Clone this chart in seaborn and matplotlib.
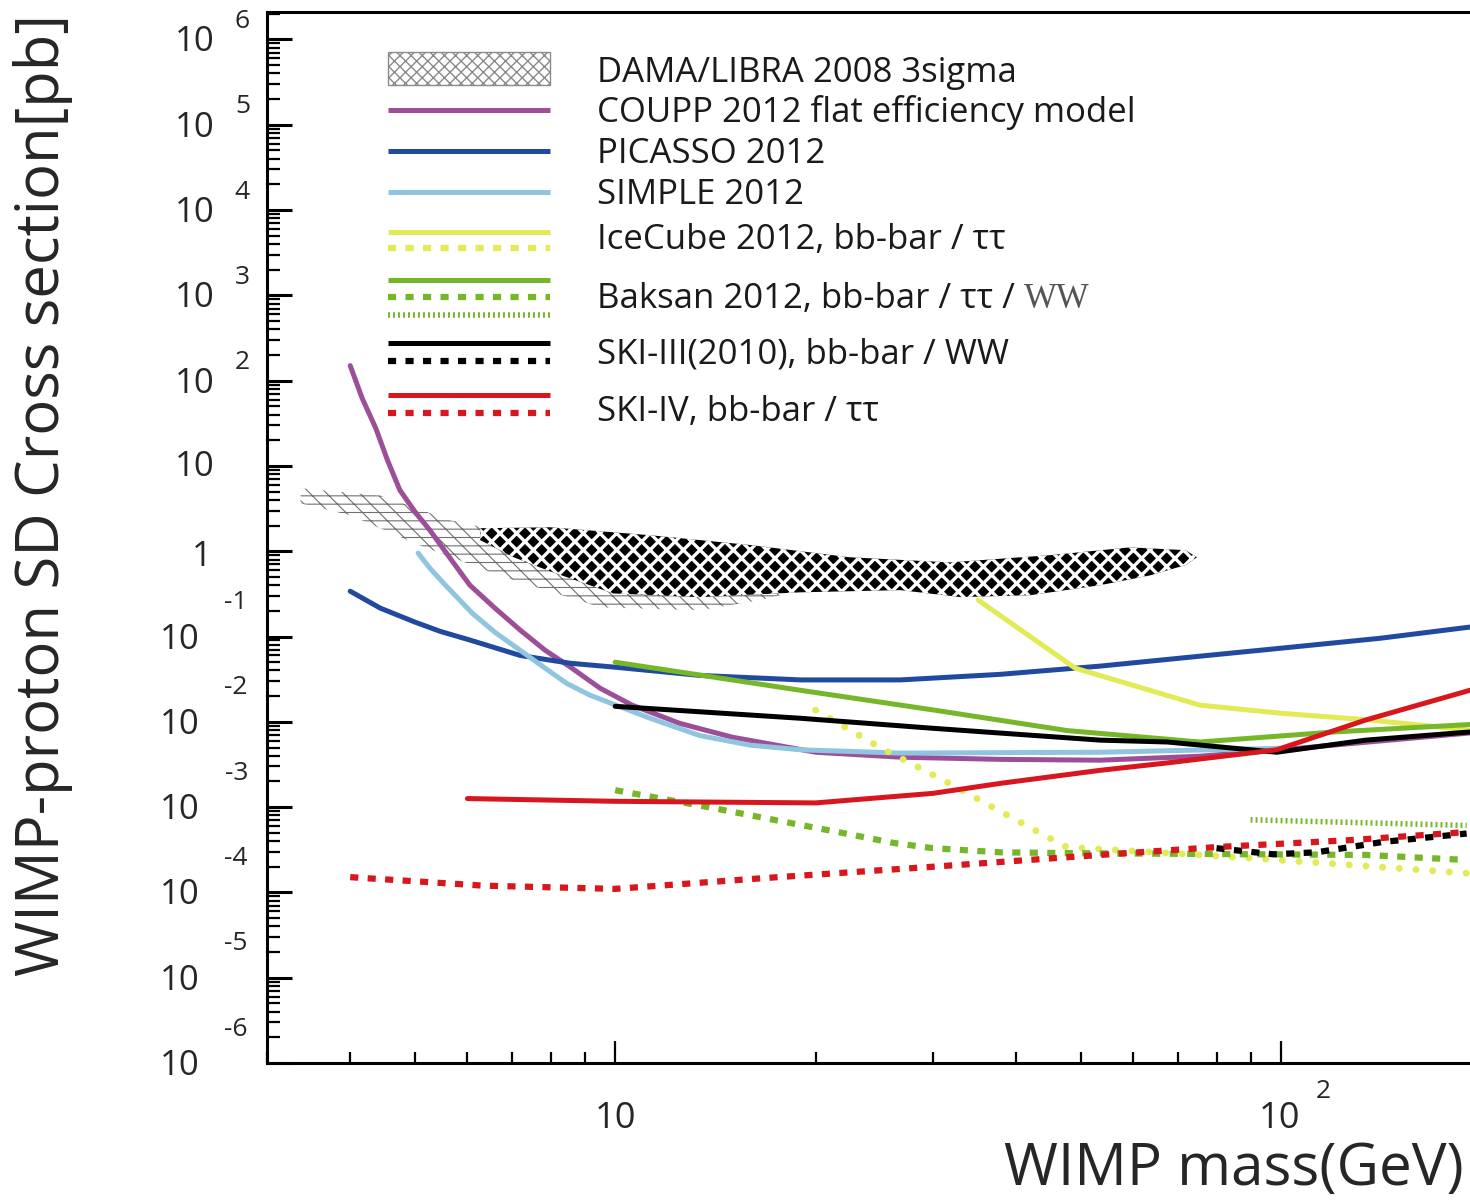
import matplotlib
matplotlib.use("Agg")
import matplotlib.pyplot as plt
import seaborn as sns
from matplotlib.ticker import LogLocator, NullFormatter
from matplotlib.patches import Rectangle

# ---------------------------------------------------------------------------
# Spin-dependent WIMP-proton cross-section limits (mass in GeV, sigma in pb)
# ---------------------------------------------------------------------------
coupp_m = [4.0, 4.17, 4.37, 4.55, 4.75, 5.01, 5.27, 5.65, 6.05, 6.6, 7.2, 7.85,
           8.56, 9.49, 10.6, 12.5, 15, 20, 26.8, 37.8, 53.5, 75.5, 100, 192]
coupp_s = [150, 62, 27.7, 11.7, 5.2, 2.87, 1.76, 0.83, 0.40, 0.215, 0.119,
           0.069, 0.044, 0.0248, 0.0157, 0.0096, 0.0066, 0.0044, 0.00385,
           0.00363, 0.00355, 0.00395, 0.0047, 0.0074]

picasso_m = [4.0, 4.44, 5.0, 5.46, 6.05, 7.2, 8.56, 10, 13.4, 19, 26.8, 37.8,
             53.5, 75.5, 100, 141, 192]
picasso_s = [0.34, 0.215, 0.148, 0.115, 0.091, 0.060, 0.0486, 0.0437, 0.035,
             0.031, 0.031, 0.036, 0.045, 0.0588, 0.073, 0.0955, 0.129]

simple_m = [5.06, 5.27, 5.56, 6.1, 6.6, 7.2, 7.85, 8.47, 9.17, 10, 11.29, 13.4,
            15.96, 19, 26.8, 53.5, 100]
simple_s = [0.95, 0.632, 0.40, 0.188, 0.112, 0.069, 0.0425, 0.028, 0.0205,
            0.0158, 0.011, 0.0069, 0.00532, 0.0047, 0.0043, 0.0044, 0.0049]

icecube_bb_m = [35.1, 49.1, 75.5, 100, 136, 192]
icecube_bb_s = [0.267, 0.0425, 0.0157, 0.0126, 0.0105, 0.0080]
icecube_tt_m = [20, 25, 31.1, 38.3, 45, 47.7, 75.5, 113, 190]
icecube_tt_s = [0.0137, 0.0050, 0.00207, 0.00085, 0.00043, 0.00034, 0.000275,
                0.000224, 0.000168]

baksan_bb_m = [10, 19, 30, 47.7, 75.5, 120, 192]
baksan_bb_s = [0.050, 0.0234, 0.0138, 0.0079, 0.0058, 0.0076, 0.0093]
baksan_tt_m = [10, 13.8, 17.3, 20.8, 26.2, 30, 37.9, 50.5, 134, 190]
baksan_tt_s = [0.00158, 0.0010, 0.00071, 0.00054, 0.00038, 0.00033, 0.000295,
               0.000288, 0.000275, 0.00024]
baksan_ww_m = [90, 190]
baksan_ww_s = [0.00071, 0.00061]

ski3_bb_m = [10, 19, 30, 53.5, 67.5, 98.5, 134, 192]
ski3_bb_s = [0.0152, 0.011, 0.0084, 0.0061, 0.0058, 0.0044, 0.0061, 0.0076]
ski3_ww_m = [80, 97.3, 113, 142, 190]
ski3_ww_s = [0.00033, 0.00028, 0.000295, 0.00039, 0.00049]

ski4_bb_m = [6.0, 10, 20, 30, 37.9, 53.5, 67.5, 98.5, 134, 192]
ski4_bb_s = [0.00126, 0.00117, 0.00112, 0.00145, 0.0019, 0.0027, 0.0033,
             0.0047, 0.0105, 0.0234]
ski4_tt_m = [4.0, 6.34, 10, 16.9, 30, 53.5, 80, 127, 190]
ski4_tt_s = [0.000151, 0.00012, 0.00011, 0.000148, 0.0002, 0.000275, 0.00034,
             0.00041, 0.00051]

# DAMA/LIBRA 3 sigma allowed regions (closed outlines)
dama_low_m = [3.37, 4.44, 5.65, 7.2, 9.5, 13.4, 19, 19, 16.5, 13.4, 9.5, 6.71,
              5.09, 4.0, 3.37]
dama_low_s = [5.48, 4.5, 2.31, 1.54, 1.03, 0.686, 0.52, 0.349, 0.267, 0.203,
              0.22, 0.52, 1.17, 2.64, 3.65]
dama_high_m = [6.27, 7.98, 11.3, 16.0, 22.5, 31.8, 45, 59.3, 71.8, 74.8, 71.8,
               63.5, 53.5, 42, 33, 26.8, 19, 13.4, 9.93, 7.9, 7.04, 6.27]
dama_high_s = [1.86, 1.91, 1.54, 1.18, 0.85, 0.74, 0.90, 1.11, 1.03, 0.85,
               0.686, 0.52, 0.40, 0.305, 0.29, 0.35, 0.33, 0.29, 0.32, 0.60,
               0.85, 1.35]

legend_labels = ["DAMA/LIBRA 2008 3sigma", "COUPP 2012 flat efficiency model",
                 "PICASSO 2012", "SIMPLE 2012", "IceCube 2012, bb-bar / \u03c4\u03c4",
                 "Baksan 2012, bb-bar / \u03c4\u03c4 / ", "SKI-III(2010), bb-bar / WW",
                 "SKI-IV, bb-bar / \u03c4\u03c4"]

# ---------------------------------------------------------------------------
sns.set_theme(style="white")
plt.rcParams["font.family"] = ["Open Sans", "DejaVu Sans"]
plt.rcParams["axes.linewidth"] = 2.2

C_COUPP = "#9c4f98"
C_PICASSO = "#2149a0"
C_SIMPLE = "#8fc5df"
C_ICE = "#e2ea55"
C_BAKSAN = "#76b72a"
C_SKI3 = "#000000"
C_SKI4 = "#d8161d"

LW = 3.6
SQ = (0, (1.3, 1.5))          # square dots
DOT = (0, (0.01, 2.4))        # round dots
FINE = (0, (0.35, 0.55))      # fine ticks

fig = plt.figure(figsize=(14.70, 12.02), dpi=100)
ax = fig.add_axes([0.18163, 0.11564, 0.82619, 0.87438])
ax.set_xscale("log")
ax.set_yscale("log")
ax.set_xlim(3.0, 200)
ax.set_ylim(1e-6, 2.1e6)

# allowed regions
with plt.rc_context({"hatch.linewidth": 0.8}):
    low = ax.fill(dama_low_m, dama_low_s, facecolor="none", edgecolor="#707070",
                  hatch="--\\\\", linewidth=0, zorder=1)[0]
    try:
        low.set_hatch_linewidth(0.8)
    except AttributeError:
        pass
with plt.rc_context({"hatch.linewidth": 2.4}):
    high = ax.fill(dama_high_m, dama_high_s, facecolor="black", edgecolor="white",
                   hatch="xx", linewidth=0, zorder=1.5)[0]
    try:
        high.set_hatch_linewidth(2.4)
    except AttributeError:
        pass


def curve(m, s, color, ls="-", lw=LW, cap="butt"):
    sns.lineplot(x=m, y=s, ax=ax, color=color, linewidth=lw, linestyle=ls,
                 estimator=None, sort=False, legend=False,
                 dash_capstyle=cap, solid_capstyle="round",
                 solid_joinstyle="round", zorder=3)


curve(coupp_m, coupp_s, C_COUPP)
curve(picasso_m, picasso_s, C_PICASSO)
curve(simple_m, simple_s, C_SIMPLE)
curve(icecube_bb_m, icecube_bb_s, C_ICE)
curve(icecube_tt_m, icecube_tt_s, C_ICE, DOT, lw=5.0, cap="round")
curve(baksan_bb_m, baksan_bb_s, C_BAKSAN)
curve(baksan_tt_m, baksan_tt_s, C_BAKSAN, SQ, lw=4.5)
curve(baksan_ww_m, baksan_ww_s, C_BAKSAN, FINE, lw=4.0)
curve(ski3_bb_m, ski3_bb_s, C_SKI3)
curve(ski3_ww_m, ski3_ww_s, C_SKI3, SQ, lw=4.5)
curve(ski4_bb_m, ski4_bb_s, C_SKI4)
curve(ski4_tt_m, ski4_tt_s, C_SKI4, SQ, lw=4.5)

# axes styling
ax.spines["right"].set_visible(False)
for sp in ("left", "bottom", "top"):
    ax.spines[sp].set_linewidth(2.2)
    ax.spines[sp].set_color("black")
ax.yaxis.set_major_locator(LogLocator(base=10, numticks=30))
ax.yaxis.set_minor_locator(LogLocator(base=10, subs=range(2, 10), numticks=300))
ax.xaxis.set_major_locator(LogLocator(base=10, numticks=30))
ax.xaxis.set_minor_locator(LogLocator(base=10, subs=range(2, 10), numticks=300))
ax.yaxis.set_minor_formatter(NullFormatter())
ax.xaxis.set_minor_formatter(NullFormatter())
ax.tick_params(axis="both", which="both", direction="in", top=False, right=False,
               left=True, bottom=True, labelleft=False, labelbottom=False,
               color="black")
ax.tick_params(axis="y", which="major", length=18, width=2.2)
ax.tick_params(axis="y", which="minor", length=9, width=1.6)
ax.tick_params(axis="x", which="major", length=16, width=1.6)
ax.tick_params(axis="x", which="minor", length=8, width=1.6)

# decade labels on the y axis
ytr = ax.get_yaxis_transform()
for k in range(-6, 7):
    y = 10.0 ** k
    if k == 0:
        ax.annotate("1", xy=(0, y), xycoords=ytr, xytext=(-55, -6),
                    textcoords="offset pixels", ha="right", va="center", fontsize=25)
    elif k == 1:
        ax.annotate("10", xy=(0, y), xycoords=ytr, xytext=(-52, -1),
                    textcoords="offset pixels", ha="right", va="center", fontsize=25)
    elif k > 1:
        ax.annotate("10", xy=(0, y), xycoords=ytr, xytext=(-52, -3),
                    textcoords="offset pixels", ha="right", va="center", fontsize=25)
        ax.annotate(str(k), xy=(0, y), xycoords=ytr, xytext=(-17, 18),
                    textcoords="offset pixels", ha="right", va="center", fontsize=19)
    else:
        ax.annotate("10", xy=(0, y), xycoords=ytr, xytext=(-67, -3),
                    textcoords="offset pixels", ha="right", va="center", fontsize=25)
        ax.annotate(str(k), xy=(0, y), xycoords=ytr, xytext=(-19, 34),
                    textcoords="offset pixels", ha="right", va="center", fontsize=19)

# decade labels on the x axis
xtr = ax.get_xaxis_transform()
ax.annotate("10", xy=(10, 0), xycoords=xtr, xytext=(0, -56),
            textcoords="offset pixels", ha="center", va="center", fontsize=26)
ax.annotate("10", xy=(100, 0), xycoords=xtr, xytext=(-2, -56),
            textcoords="offset pixels", ha="center", va="center", fontsize=26)
ax.annotate("2", xy=(100, 0), xycoords=xtr, xytext=(42, -28),
            textcoords="offset pixels", ha="center", va="center", fontsize=19)

# axis titles
fig.text(43 / 1470, 1 - 495 / 1202, "WIMP-proton SD Cross section[pb]",
         rotation=90, ha="center", va="center", fontsize=43)
fig.text(1004 / 1470, 1 - 1170 / 1202, "WIMP mass(GeV)",
         ha="left", va="center", fontsize=42)

# legend keys and labels
kx0, kx1, tx = 0.0996, 0.2330, 0.2717
tA = ax.transAxes
ax.add_patch(Rectangle((kx0, 0.9306), kx1 - kx0, 0.0314, transform=tA,
                       facecolor="white", edgecolor="#8a8a8a", hatch="xxx",
                       linewidth=1.0, zorder=4))


def key(y, color, ls="-", lw=LW, cap="butt"):
    ax.plot([kx0, kx1], [y, y], transform=tA, color=color, linestyle=ls,
            linewidth=lw, dash_capstyle=cap, solid_capstyle="butt", zorder=4)


key(0.9068, C_COUPP)
key(0.8678, C_PICASSO)
key(0.8287, C_SIMPLE)
key(0.7907, C_ICE)
key(0.7755, C_ICE, SQ, lw=4.5)
key(0.7450, C_BAKSAN)
key(0.7288, C_BAKSAN, SQ, lw=4.5)
key(0.7117, C_BAKSAN, FINE, lw=4.0)
key(0.6851, C_SKI3)
key(0.6680, C_SKI3, SQ, lw=4.5)
key(0.6356, C_SKI4)
key(0.6185, C_SKI4, SQ, lw=4.5)

label_y = [0.9420, 0.9040, 0.8650, 0.8260, 0.7830, 0.7265, 0.6745, 0.6195]
for lab, yy in zip(legend_labels, label_y):
    t = ax.text(tx, yy, lab, transform=tA, ha="left", va="center", fontsize=25,
                color="#1a1a1a", zorder=4)
    if lab.startswith("Baksan"):
        ax.annotate("WW", xy=(1, 0.5), xycoords=t, ha="left", va="center",
                    fontsize=25, color="#555555", family=["Liberation Serif"])

fig.savefig("out.png", dpi=100)
